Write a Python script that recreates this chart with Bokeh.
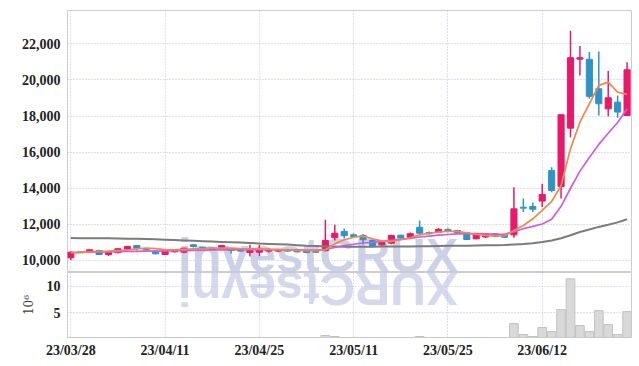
import numpy as np
from bokeh.plotting import figure
from bokeh.layouts import column
from bokeh.models import Range1d, FixedTicker, NumeralTickFormatter, ColumnDataSource
from bokeh.core.properties import value
from bokeh.embed import file_html
from bokeh.resources import INLINE

# ---------------- data ----------------
dates = ["23/03/28", "23/03/29", "23/03/30", "23/03/31", "23/04/03", "23/04/04", "23/04/05", "23/04/06",
         "23/04/07", "23/04/10", "23/04/11", "23/04/12", "23/04/13", "23/04/14", "23/04/17", "23/04/18",
         "23/04/19", "23/04/20", "23/04/21", "23/04/24", "23/04/25", "23/04/26", "23/04/27", "23/04/28",
         "23/05/02", "23/05/03", "23/05/04", "23/05/08", "23/05/09", "23/05/10", "23/05/11", "23/05/12",
         "23/05/15", "23/05/16", "23/05/17", "23/05/18", "23/05/19", "23/05/22", "23/05/23", "23/05/24",
         "23/05/25", "23/05/26", "23/05/30", "23/05/31", "23/06/01", "23/06/02", "23/06/05", "23/06/07",
         "23/06/08", "23/06/09", "23/06/12", "23/06/13", "23/06/14", "23/06/15", "23/06/16", "23/06/19",
         "23/06/20", "23/06/21", "23/06/22", "23/06/23"]

opens = [10150, 10470, 10460, 10550, 10330, 10430, 10630, 10830, 10610, 10520,
         10330, 10480, 10460, 10870, 10740, 10680, 10650, 10650, 10630, 10440,
         10460, 10520, 10520, 10590, 10550, 10520, 10500, 10550, 11260, 11610,
         11420, 11380, 11110, 10870, 10960, 11400, 11290, 11840, 11550, 11570,
         11720, 11660, 11530, 11200, 11300, 11480, 11420, 11420, 12950, 12990,
         13290, 14990, 14100, 17330, 21150, 21140, 19510, 18400, 18770, 18030]
closes = [10460, 10450, 10590, 10330, 10500, 10650, 10780, 10680, 10590, 10370,
          10550, 10590, 10680, 10780, 10660, 10610, 10830, 10550, 10520, 10550,
          10650, 10590, 10590, 10520, 10500, 10440, 10460, 11110, 11510, 11370,
          11330, 11150, 10830, 11010, 11390, 11240, 11480, 11510, 11480, 11720,
          11610, 11530, 11160, 11460, 11450, 11370, 11290, 12860, 12900, 12840,
          13660, 13880, 18070, 21230, 21230, 19090, 18680, 19010, 18220, 20560]
highs = [10500, 10500, 10610, 10600, 10520, 10680, 10800, 10850, 10650, 10540,
         10560, 10600, 10700, 10900, 10760, 10700, 10850, 10670, 10660, 10870,
         10870, 10660, 10650, 10650, 10580, 10560, 10520, 12250, 11980, 11770,
         11500, 11470, 11150, 11050, 11420, 11430, 11550, 12220, 11600, 11800,
         11780, 11700, 11560, 11500, 11480, 11500, 11450, 14060, 13430, 13210,
         14250, 15170, 18100, 22730, 21880, 21540, 21580, 20490, 19140, 20980]
lows = [10030, 10420, 10440, 10300, 10250, 10400, 10600, 10560, 10560, 10340,
        10320, 10440, 10400, 10720, 10640, 10580, 10640, 10370, 10500, 10220,
        10240, 10440, 10460, 10480, 10460, 10400, 10410, 10500, 11110, 11220,
        11250, 10890, 10720, 10800, 10900, 11200, 11250, 11480, 11440, 11530,
        11560, 11480, 11130, 11180, 11250, 11340, 11260, 11260, 12690, 12690,
        12960, 13780, 13440, 16820, 20250, 18960, 18030, 17990, 17910, 18030]

volume = [0.1, 0.1, 0.1, 0.1, 0.1, 0.1, 0.1, 0.1, 0.1, 0.1,
          0.1, 0.1, 0.1, 0.1, 0.1, 0.1, 0.1, 0.1, 0.1, 0.1,
          0.1, 0.1, 0.1, 0.1, 0.1, 0.1, 0.1, 0.63, 0.44, 0.1,
          0.1, 0.1, 0.1, 0.1, 0.1, 0.1, 0.1, 0.44, 0.1, 0.1,
          0.1, 0.1, 0.1, 0.1, 0.1, 0.1, 0.1, 2.9, 0.82, 0.44,
          2.15, 1.39, 5.57, 11.46, 2.53, 1.39, 5.38, 2.72, 0.82, 5.19]

ma_short = [10430, 10450, 10480, 10500, 10520, 10550, 10580, 10640, 10680, 10660,
            10600, 10590, 10620, 10640, 10650, 10680, 10690, 10680, 10660, 10650,
            10640, 10620, 10600, 10580, 10560, 10550, 10540, 10600, 10920, 11150,
            11290, 11350, 11200, 11070, 11050, 11150, 11260, 11420, 11510, 11570,
            11620, 11610, 11530, 11440, 11390, 11350, 11370, 11660, 11940, 12310,
            12770, 13270, 14150, 16190, 17660, 18680, 19700, 19880, 19320, 19200]
ma_mid = [10440, 10450, 10460, 10470, 10480, 10490, 10500, 10510, 10520, 10520,
          10530, 10540, 10550, 10560, 10570, 10580, 10590, 10600, 10600, 10600,
          10600, 10600, 10600, 10590, 10590, 10580, 10580, 10610, 10720, 10830,
          10900, 10970, 11010, 11060, 11120, 11170, 11230, 11300, 11350, 11400,
          11440, 11470, 11480, 11490, 11480, 11460, 11450, 11600, 11760, 11890,
          12020, 12280, 13000, 14000, 14950, 15700, 16430, 17050, 17640, 18400]
ma_long = [11240, 11235, 11230, 11230, 11225, 11220, 11210, 11200, 11190, 11170,
           11150, 11130, 11110, 11090, 11070, 11050, 11030, 11010, 10990, 10970,
           10940, 10920, 10900, 10880, 10850, 10820, 10800, 10780, 10770, 10760,
           10760, 10760, 10760, 10770, 10770, 10780, 10780, 10790, 10790, 10800,
           10810, 10810, 10820, 10830, 10840, 10850, 10860, 10890, 10920, 10960,
           11020, 11110, 11230, 11400, 11580, 11720, 11860, 11980, 12110, 12280]

price_ticks = [10000, 12000, 14000, 16000, 18000, 20000, 22000]
vol_ticks = [5, 10]
date_tick_idx = [0, 10, 20, 30, 40, 50]

# ---------------- styling ----------------
UP = "#e8196a"
DOWN = "#2f93c8"
GRID = "#bcc3da"
FONT = "Liberation Sans Narrow"
WM_COLOR = "#c3c9e2"

idx = list(range(len(dates)))
colors = [UP if c >= o else DOWN for o, c in zip(opens, closes)]
src = ColumnDataSource(dict(
    x=idx, o=opens, c=closes, h=highs, l=lows,
    top=[max(o, c) for o, c in zip(opens, closes)],
    bot=[min(o, c) for o, c in zip(opens, closes)],
    color=colors, vol=volume,
    ma1=ma_short, ma2=ma_mid, ma3=ma_long,
))

xr = Range1d(-0.35, 59.47)

def style(p):
    p.background_fill_color = "white"
    p.border_fill_color = "white"
    p.outline_line_color = "#cccccc"
    p.outline_line_width = 1
    for g in (p.xgrid, p.ygrid):
        g.grid_line_color = GRID
        g.grid_line_dash = "1 2"
        g.grid_line_width = 1
    p.yaxis.axis_line_color = None
    p.yaxis.major_tick_line_color = None
    p.yaxis.minor_tick_line_color = None
    p.yaxis.major_tick_out = 0
    p.yaxis.major_tick_in = 0
    p.yaxis.minor_tick_out = 0
    p.yaxis.major_label_text_font = FONT
    p.yaxis.major_label_text_font_size = "14px"
    p.yaxis.major_label_text_font_style = "bold"
    p.yaxis.major_label_text_color = "#222222"
    p.yaxis.major_label_standoff = 7

# ---------------- price panel ----------------
p1 = figure(width=639, height=272, x_range=xr, y_range=Range1d(9335, 23845),
            output_backend="svg", toolbar_location=None,
            min_border_left=67, min_border_right=8, min_border_top=10, min_border_bottom=0)
style(p1)
p1.xaxis.visible = False
p1.xgrid.ticker = FixedTicker(ticks=date_tick_idx)
p1.yaxis.ticker = FixedTicker(ticks=price_ticks)
p1.yaxis.formatter = NumeralTickFormatter(format="0,0")

p1.text(x=[26.24], y=[9700], text=["investCRUX"], text_align="center",
        text_baseline="bottom", y_offset=16, text_font=value("Liberation Sans"),
        text_font_style="bold", text_font_size="49px", text_color=WM_COLOR, text_alpha=0.85)

p1.segment(x0="x", y0="l", x1="x", y1="h", source=src, line_color="color", line_width=1.5)
p1.vbar(x="x", width=0.65, top="top", bottom="bot", source=src,
        fill_color="color", line_color="color")

p1.line(x="x", y="ma3", source=src, line_color="#7b7b7b", line_width=2)
p1.line(x="x", y="ma2", source=src, line_color="#c85de8", line_width=1.7)
p1.line(x="x", y="ma1", source=src, line_color="#f2874c", line_width=1.7)

# ---------------- volume panel ----------------
p2 = figure(width=639, height=94, x_range=xr, y_range=Range1d(0.25, 12.66),
            output_backend="svg", toolbar_location=None,
            min_border_left=67, min_border_right=8, min_border_top=0, min_border_bottom=29)
style(p2)
p2.yaxis.ticker = FixedTicker(ticks=vol_ticks)
p2.xaxis.ticker = FixedTicker(ticks=date_tick_idx)
p2.xaxis.major_label_overrides = {i: dates[i] for i in date_tick_idx}
p2.xaxis.axis_line_color = None
p2.xaxis.major_tick_line_color = None
p2.xaxis.minor_tick_line_color = None
p2.xaxis.major_tick_out = 0
p2.xaxis.major_tick_in = 0
p2.xaxis.minor_tick_out = 0
p2.xaxis.major_label_text_font = FONT
p2.xaxis.major_label_text_font_size = "14px"
p2.xaxis.major_label_text_font_style = "bold"
p2.xaxis.major_label_text_color = "#222222"
p2.xaxis.major_label_standoff = 5
p2.yaxis.axis_label = "10⁶"
p2.yaxis.axis_label_text_font = "DejaVu Serif"
p2.yaxis.axis_label_text_font_style = "normal"
p2.yaxis.axis_label_text_font_size = "12px"
p2.yaxis.axis_label_text_color = "#444444"
p2.yaxis.axis_label_standoff = 8

p2.text(x=[26.24], y=[11.0], text=["XURCtsevni"], angle=np.pi, text_align="center",
        text_baseline="bottom", y_offset=-19, text_font=value("Liberation Sans"),
        text_font_style="bold", text_font_size="49px", text_color=WM_COLOR, text_alpha=0.7)

p2.vbar(x="x", width=0.92, top="vol", bottom=0, source=src,
        fill_color="#d9d9d9", line_color="#c2c2c2")

layout = column(p1, p2, spacing=0)
open("out.html", "w").write(file_html(layout, INLINE))
